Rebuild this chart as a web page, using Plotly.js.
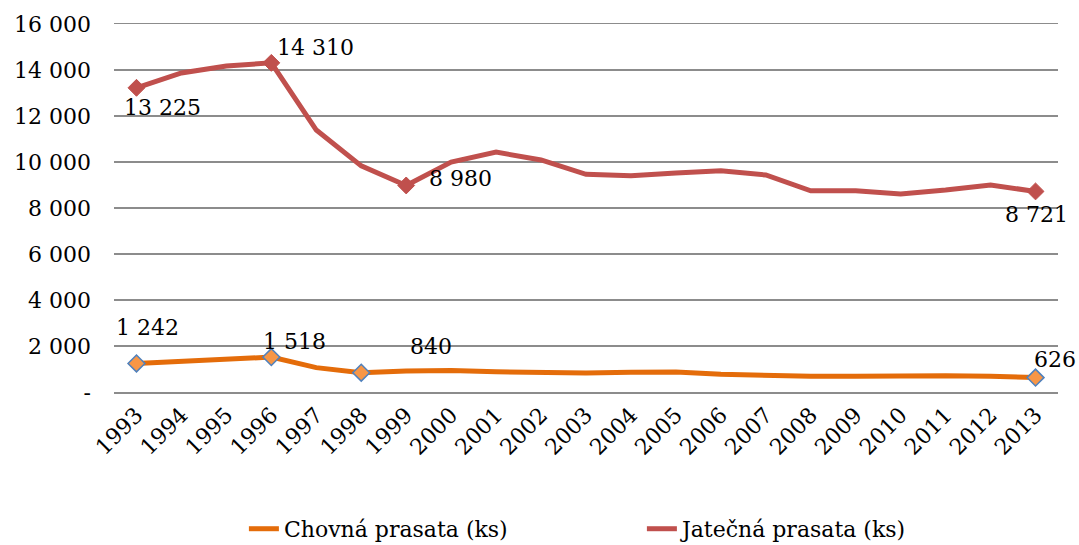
<!DOCTYPE html>
<html>
<head>
<meta charset="utf-8">
<script src="https://cdn.plot.ly/plotly-3.0.1.min.js"></script>
<style>html,body{margin:0;padding:0;background:#fff;}#chart{width:1079px;height:545px;}</style>
</head>
<body>
<div id="chart"></div>
<script>
var years = ['1993','1994','1995','1996','1997','1998','1999','2000','2001','2002','2003','2004','2005','2006','2007','2008','2009','2010','2011','2012','2013'];
var chovna = [1242,1330,1420,1518,1060,840,910,940,880,830,830,860,870,770,710,680,680,710,710,680,626];
var jatecna = [13225,13870,14170,14310,11390,9830,8980,10000,10430,10090,9465,9405,9520,9620,9435,8750,8750,8610,8780,9000,8721];
var chovnaMarked = ['1993','1996','1998','2013'];
var jatecnaMarked = ['1993','1996','1999','2013'];
var yTickVals = [0,2000,4000,6000,8000,10000,12000,14000,16000];
var yTickText = ['-','2 000','4 000','6 000','8 000','10 000','12 000','14 000','16 000'];

var FONT = 'DejaVu Serif, serif';
var FS = 22;
var fmt = function(v){ return String(v).replace(/\B(?=(\d{3})+(?!\d))/g, ' '); };

function pick(cats, vals, which){
  var x=[], y=[], idx=[];
  cats.forEach(function(c,i){ if(which.indexOf(c)>=0){ x.push(c); y.push(vals[i]); idx.push(i); } });
  return {x:x, y:y, idx:idx};
}
var cm = pick(years, chovna, chovnaMarked);
var jm = pick(years, jatecna, jatecnaMarked);

var traces = [
  {x: years, y: chovna, type:'scatter', mode:'lines', name:'Chovná prasata (ks)',
   line:{color:'#E46C0A', width:5}},
  {x: years, y: jatecna, type:'scatter', mode:'lines', name:'Jatečná prasata (ks)',
   line:{color:'#C0504D', width:5}},
  {x: cm.x, y: cm.y, type:'scatter', mode:'markers', showlegend:false,
   marker:{symbol:'diamond', size:13, color:'#F79646', line:{color:'#4F81BD', width:1.5}}},
  {x: jm.x, y: jm.y, type:'scatter', mode:'markers', showlegend:false,
   marker:{symbol:'diamond', size:13, color:'#C0504D', line:{color:'#C0504D', width:1}}}
];

// label offsets [xshift, yshift] in px for each marked point
var cOff = [[11,36],[23,16],[70,26],[19,18]];
var jOff = [[26,-20],[44,15],[54,7],[1,-23]];
var ann = [];
cm.idx.forEach(function(ix,i){ ann.push({x:ix, y:cm.y[i], xref:'x', yref:'y', text:fmt(cm.y[i]), showarrow:false, xshift:cOff[i][0], yshift:cOff[i][1], font:{family:FONT,size:FS,color:'#000'}}); });
jm.idx.forEach(function(ix,i){ ann.push({x:ix, y:jm.y[i], xref:'x', yref:'y', text:fmt(jm.y[i]), showarrow:false, xshift:jOff[i][0], yshift:jOff[i][1], font:{family:FONT,size:FS,color:'#000'}}); });

var layout = {
  width:1079, height:545,
  margin:{l:113.5, r:20.5, t:24, b:153, autoexpand:false},
  paper_bgcolor:'#fff', plot_bgcolor:'#fff',
  font:{family:FONT, size:FS, color:'#000'},
  xaxis:{type:'category', tickangle:-45, showgrid:false, zeroline:false, automargin:false,
         showline:true, mirror:true, linecolor:'#8C8C8C', linewidth:1.5,
         ticks:'', tickfont:{family:FONT,size:FS,color:'#000'}, range:[-0.5,20.5]},
  yaxis:{range:[0,16000], tickvals:yTickVals, ticktext:yTickText, showgrid:true, automargin:false,
         gridcolor:'#8C8C8C', gridwidth:1.5, zeroline:false, showline:false, ticks:'',
         ticklabelstandoff:22, tickfont:{family:FONT,size:FS,color:'#000'}},
  showlegend:true,
  legend:{orientation:'h', x:0.1376, xanchor:'left', y:-0.315, yanchor:'top',
          font:{family:FONT,size:FS,color:'#000'}, entrywidth:353, traceorder:'normal'},
  annotations: ann
};
Plotly.newPlot('chart', traces, layout, {displayModeBar:false, staticPlot:true});
</script>
</body>
</html>
